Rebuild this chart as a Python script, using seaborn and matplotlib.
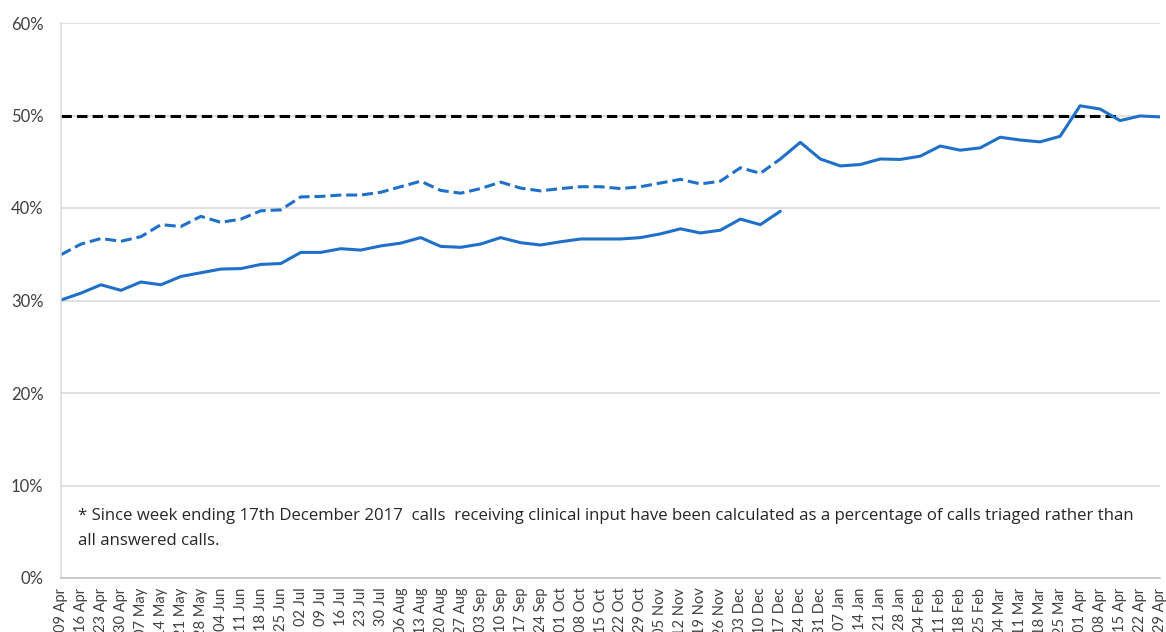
import numpy as np
import pandas as pd
import matplotlib.pyplot as plt
import matplotlib.ticker as mticker
import seaborn as sns

# ── Data ─────────────────────────────────────────────────────
weeks = [
    "09 Apr", "16 Apr", "23 Apr", "30 Apr", "07 May", "14 May", "21 May", "28 May",
    "04 Jun", "11 Jun", "18 Jun", "25 Jun", "02 Jul", "09 Jul", "16 Jul", "23 Jul",
    "30 Jul", "06 Aug", "13 Aug", "20 Aug", "27 Aug", "03 Sep", "10 Sep", "17 Sep",
    "24 Sep", "01 Oct", "08 Oct", "15 Oct", "22 Oct", "29 Oct", "05 Nov", "12 Nov",
    "19 Nov", "26 Nov", "03 Dec", "10 Dec", "17 Dec", "24 Dec", "31 Dec", "07 Jan",
    "14 Jan", "21 Jan", "28 Jan", "04 Feb", "11 Feb", "18 Feb", "25 Feb", "04 Mar",
    "11 Mar", "18 Mar", "25 Mar", "01 Apr", "08 Apr", "15 Apr", "22 Apr", "29 Apr",
]

# % of answered calls receiving clinical input (09 Apr - 17 Dec)
answered_pct = [
    30.05, 30.8, 31.7, 31.1, 32.0, 31.7, 32.6, 33.0, 33.4, 33.45, 33.9, 34.0,
    35.2, 35.2, 35.6, 35.45, 35.9, 36.2, 36.8, 35.85, 35.75, 36.1, 36.8, 36.25,
    36.0, 36.35, 36.65, 36.65, 36.65, 36.8, 37.2, 37.75, 37.3, 37.6, 38.8, 38.2,
    39.65,
]

# % of triaged calls, back-calculated (09 Apr - 17 Dec)
triaged_old_pct = [
    34.95, 36.1, 36.7, 36.4, 36.9, 38.2, 38.0, 39.1, 38.45, 38.8, 39.7, 39.8,
    41.2, 41.25, 41.4, 41.4, 41.7, 42.3, 42.9, 41.9, 41.6, 42.1, 42.8, 42.15,
    41.85, 42.1, 42.3, 42.3, 42.1, 42.3, 42.7, 43.1, 42.6, 42.9, 44.35, 43.75,
    45.3,
]

# % of triaged calls (17 Dec - 29 Apr)
triaged_new_pct = [
    45.3, 47.1, 45.3, 44.55, 44.7, 45.3, 45.25, 45.6, 46.7, 46.25, 46.5, 47.65,
    47.35, 47.15, 47.75, 51.05, 50.7, 49.45, 49.95, 49.85,
]

# 50% target (09 Apr - 15 Apr)
target_pct = [50.0] * 54

note = ("* Since week ending 17th December 2017  calls  receiving clinical input have been "
        "calculated as a percentage of calls triaged rather than\nall answered calls.")

# ── Style ────────────────────────────────────────────────────
sns.set_style("white")
plt.rcParams["font.family"] = ["Lato", "DejaVu Sans"]

BLUE = "#1F70C8"
GREY_TXT = "#404040"
GRID = "#D9D9D9"

pos = np.arange(len(weeks))
df_answered = pd.DataFrame({"pos": pos[:len(answered_pct)], "pct": answered_pct})
df_old = pd.DataFrame({"pos": pos[:len(triaged_old_pct)], "pct": triaged_old_pct})
start_new = weeks.index("17 Dec")
df_new = pd.DataFrame({"pos": pos[start_new:start_new + len(triaged_new_pct)],
                       "pct": triaged_new_pct})
df_target = pd.DataFrame({"pos": pos[:len(target_pct)], "pct": target_pct})

fig = plt.figure(figsize=(11.66, 6.32), dpi=100)
ax = fig.add_axes([61 / 1166, 54 / 632, 1099 / 1166, 555 / 632])

sns.lineplot(data=df_answered, x="pos", y="pct", ax=ax, color=BLUE, linewidth=2.2)
sns.lineplot(data=df_old, x="pos", y="pct", ax=ax, color=BLUE, linewidth=2.2,
             linestyle=(0, (3.6, 1.6)))
sns.lineplot(data=df_new, x="pos", y="pct", ax=ax, color=BLUE, linewidth=2.2)
sns.lineplot(data=df_target, x="pos", y="pct", ax=ax, color="black", linewidth=2.2,
             linestyle=(0, (3.4, 1.7)), zorder=1.5)

ax.set_xlim(0, len(weeks) - 1)
ax.set_ylim(0, 60)
ax.set_yticks(np.arange(0, 61, 10))
ax.yaxis.set_major_formatter(mticker.PercentFormatter(100, decimals=0))
ax.set_xticks(pos)
ax.set_xticklabels(weeks, rotation=90, fontsize=10.5, color=GREY_TXT)
ax.tick_params(axis="y", labelsize=12, labelcolor=GREY_TXT, length=4.5,
               color=GRID, width=1, pad=8)
ax.tick_params(axis="x", length=4, color="#BFBFBF", width=1, pad=3)
ax.set_xlabel("")
ax.set_ylabel("")

ax.grid(axis="y", color=GRID, linewidth=1.1)
ax.set_axisbelow(True)
for side in ["top", "right"]:
    ax.spines[side].set_visible(False)
ax.spines["left"].set_color(GRID)
ax.spines["left"].set_linewidth(1.1)
ax.spines["bottom"].set_color("#BFBFBF")
ax.spines["bottom"].set_linewidth(1.1)

ax.text(17 / 1099, (578 - 508) / 555, note, transform=ax.transAxes,
        ha="left", va="top", fontsize=12.1, color="#262626", linespacing=1.75,
        family=["Open Sans", "DejaVu Sans"])

fig.savefig("out.png", dpi=100)
